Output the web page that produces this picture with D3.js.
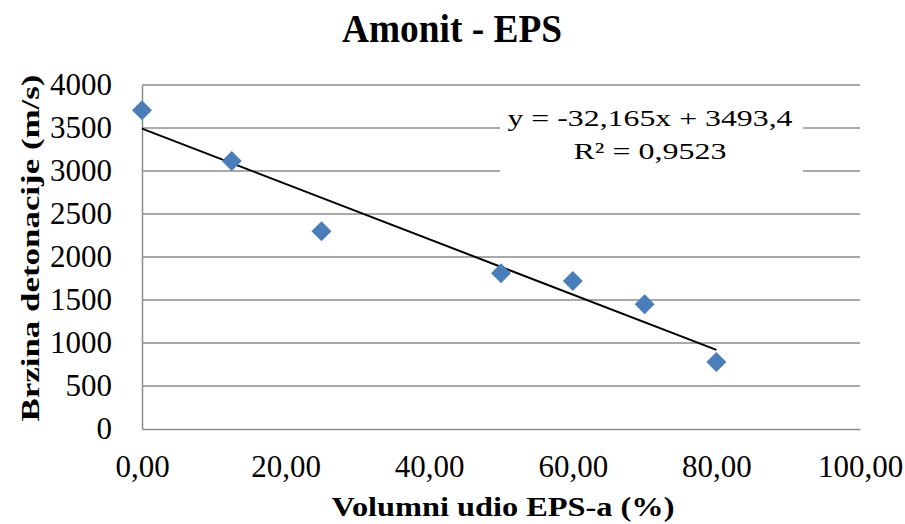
<!DOCTYPE html>
<html>
<head>
<meta charset="utf-8">
<script src="https://cdn.jsdelivr.net/npm/d3@7"></script>
<style>
  body { margin: 0; background: #fff; }
  svg text { font-family: "Liberation Serif", "Times New Roman", serif; fill: #000; }
</style>
</head>
<body>
<div id="vis"></div>
<script>
// data
const eps = [0, 12.5, 25, 50, 60, 70, 80]
const brzina = [3705, 3115, 2300, 1810, 1720, 1450, 780]
const yTicks = [0, 500, 1000, 1500, 2000, 2500, 3000, 3500, 4000]
const xTicks = [0, 20, 40, 60, 80, 100]
const trend = { slope: -32.165, intercept: 3493.4 }
const trendText = ['y = -32,165x + 3493,4', 'R² = 0,9523']

const W = 905, H = 524
const margin = { top: 85, right: 45, bottom: 95, left: 142 }
const width = W - margin.left - margin.right
const height = H - margin.top - margin.bottom
const serif = '"Liberation Serif", "Times New Roman", serif'

const svg = d3.select('#vis')
    .append('svg')
    .attr('width', W)
    .attr('height', H)

const g = svg.append('g')
    .attr('transform', `translate(${margin.left},${margin.top})`)

const xScale = d3.scaleLinear().domain([0, 100]).range([0, width])
const yScale = d3.scaleLinear().domain([0, 4000]).range([height, 0])

// gridlines
g.selectAll('.grid')
    .data(yTicks.filter(d => d > 0))
    .join('line')
    .attr('class', 'grid')
    .attr('x1', 0)
    .attr('x2', width)
    .attr('y1', d => yScale(d))
    .attr('y2', d => yScale(d))
    .style('stroke', '#8c8c8c')
    .style('stroke-width', 1.5)

// axes
const xAxis = d3.axisBottom(xScale)
    .tickValues(xTicks)
    .tickSize(0)
    .tickPadding(0)
    .tickFormat(d => d3.format('.2f')(d).replace('.', ','))
const yAxis = d3.axisLeft(yScale)
    .tickValues(yTicks)
    .tickSize(0)
    .tickPadding(30)
    .tickFormat(d3.format('d'))

const xg = g.append('g')
    .attr('class', 'axis')
    .attr('transform', `translate(0,${height})`)
    .call(xAxis)
const yg = g.append('g')
    .attr('class', 'axis')
    .call(yAxis)

g.selectAll('.axis')
    .attr('font-family', serif)
    .attr('font-size', 31)
g.selectAll('.axis path').style('stroke', '#8c8c8c').style('stroke-width', 1.5)
xg.selectAll('.tick text').attr('y', 48).attr('dy', null)
yg.selectAll('.tick text').attr('dy', '0.3em')

// trendline label box (covers gridlines)
g.append('rect')
    .attr('x', 500 - margin.left)
    .attr('y', 98 - margin.top)
    .attr('width', 303)
    .attr('height', 76)
    .style('fill', '#fff')

const labelW = [285, 153]
g.selectAll('.trendLabel')
    .data(trendText)
    .join('text')
    .attr('class', 'trendLabel')
    .attr('x', 650 - margin.left)
    .attr('y', (d, i) => 126 - margin.top + i * 33)
    .attr('text-anchor', 'middle')
    .attr('font-size', 23)
    .attr('textLength', (d, i) => labelW[i])
    .attr('lengthAdjust', 'spacingAndGlyphs')
    .text(d => d)

// trendline
const xMin = d3.min(eps), xMax = d3.max(eps)
g.append('line')
    .attr('x1', xScale(xMin))
    .attr('y1', yScale(trend.slope * xMin + trend.intercept))
    .attr('x2', xScale(xMax))
    .attr('y2', yScale(trend.slope * xMax + trend.intercept))
    .style('stroke', '#000')
    .style('stroke-width', 2)

// points
const diamond = d3.symbol().type(d3.symbolSquare).size(200)
g.selectAll('.points')
    .data(eps.map((x, i) => ({ x: x, y: brzina[i] })))
    .join('path')
    .attr('class', 'points')
    .attr('d', diamond)
    .attr('transform', d => `translate(${xScale(d.x)},${yScale(d.y)}) rotate(45)`)
    .style('fill', '#4a7ebb')

// titles
svg.append('text')
    .attr('x', 452)
    .attr('y', 42)
    .attr('text-anchor', 'middle')
    .attr('font-size', 40)
    .attr('font-weight', 'bold')
    .attr('textLength', 220)
    .attr('lengthAdjust', 'spacingAndGlyphs')
    .text('Amonit - EPS')

svg.append('text')
    .attr('x', 503)
    .attr('y', 516)
    .attr('text-anchor', 'middle')
    .attr('font-size', 28)
    .attr('font-weight', 'bold')
    .attr('textLength', 343)
    .attr('lengthAdjust', 'spacingAndGlyphs')
    .text('Volumni udio EPS-a (%)')

svg.append('text')
    .attr('transform', 'rotate(-90)')
    .attr('x', -248)
    .attr('y', 39)
    .attr('text-anchor', 'middle')
    .attr('font-size', 25)
    .attr('font-weight', 'bold')
    .attr('textLength', 347)
    .attr('lengthAdjust', 'spacingAndGlyphs')
    .text('Brzina detonacije (m/s)')
</script>
</body>
</html>
